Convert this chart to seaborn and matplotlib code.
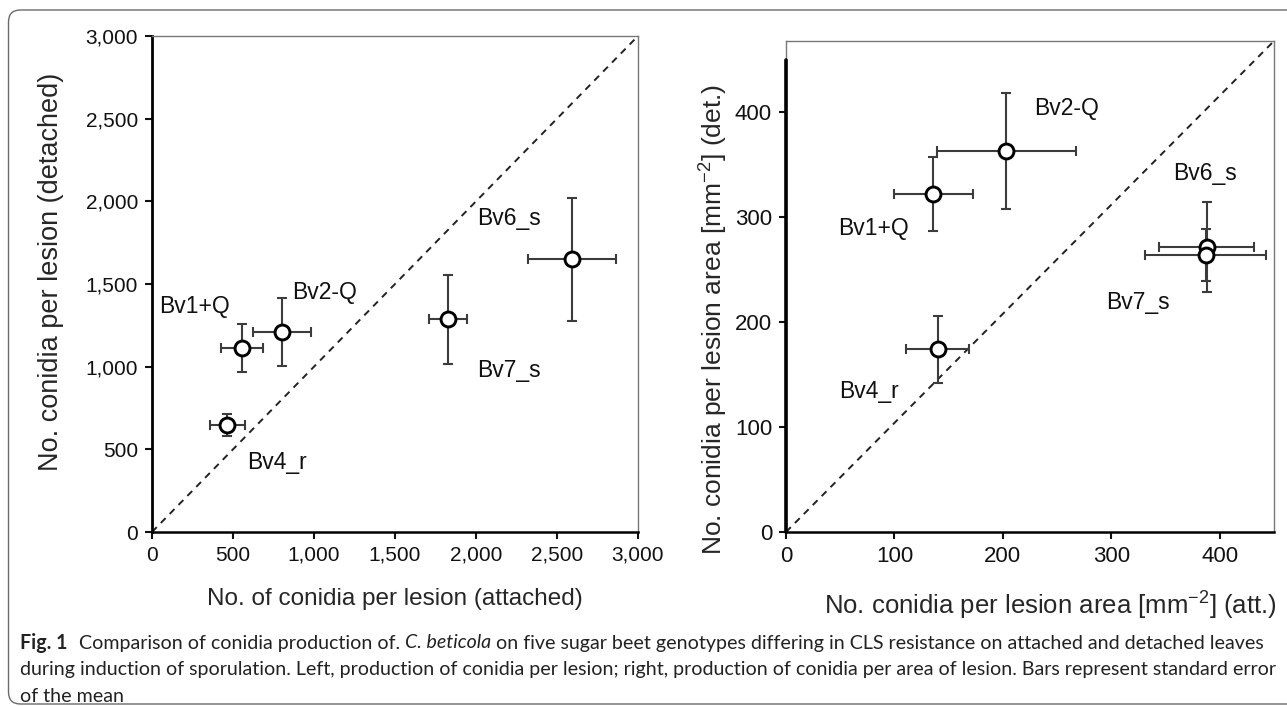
import numpy as np
import pandas as pd
import matplotlib
matplotlib.use("Agg")
import matplotlib.pyplot as plt
import seaborn as sns
from matplotlib.patches import FancyBboxPatch

# genotypes
genotypes = ["Bv1+Q", "Bv2-Q", "Bv4_r", "Bv6_s", "Bv7_s"]

# left panel: conidia per lesion (attached vs detached), mean and SE
att_mean = [558, 801, 466, 2590, 1828]
att_se = [130, 178, 105, 272, 118]
det_mean = [1114, 1209, 647, 1650, 1288]
det_se = [145, 207, 68, 372, 269]
# label anchor (left edge, vertical centre) in data units
left_lab_x = [41, 863, 589, 2005, 2005]
left_lab_y = [1365, 1449, 423, 1896, 978]

# right panel: conidia per lesion area (mm-2)
att_area_mean = [136, 203, 140, 388, 387]
att_area_se = [36, 64, 29, 44, 56]
det_area_mean = [322, 363, 174, 272, 264]
det_area_se = [35, 55, 32, 43, 25]
right_lab_x = [48, 229, 49, 357, 295]
right_lab_y = [289, 404, 134, 342, 219]

left_ticks = [0, 500, 1000, 1500, 2000, 2500, 3000]
right_ticks = [0, 100, 200, 300, 400]

left_df = pd.DataFrame({"genotype": genotypes, "att": att_mean, "att_se": att_se,
                        "det": det_mean, "det_se": det_se,
                        "lx": left_lab_x, "ly": left_lab_y})
right_df = pd.DataFrame({"genotype": genotypes, "att": att_area_mean, "att_se": att_area_se,
                         "det": det_area_mean, "det_se": det_area_se,
                         "lx": right_lab_x, "ly": right_lab_y})

sns.set_style("white")
plt.rcParams['font.family'] = ['Liberation Sans', 'DejaVu Sans']
plt.rcParams['mathtext.default'] = 'regular'

W, H = 1287, 706
fig = plt.figure(figsize=(W / 100, H / 100), dpi=100)


def px_axes(x0, x1, y0, y1):
    # pixel box (top-down y) -> figure fraction
    return fig.add_axes([x0 / W, 1 - y1 / H, (x1 - x0) / W, (y1 - y0) / H])


ax1 = px_axes(152, 638, 36, 532)
ax2 = px_axes(786, 1274, 41, 532)


def draw_panel(ax, df, lim, ylim, ticks, fmt, tsize):
    ax.errorbar(df["att"], df["det"], xerr=df["att_se"], yerr=df["det_se"], fmt="none",
                ecolor="#3c3c3c", elinewidth=1.5, capsize=3.5, capthick=1.5, zorder=2)
    sns.scatterplot(data=df, x="att", y="det", ax=ax, marker="o", s=115,
                    facecolor="white", edgecolor="black", linewidth=2.1, zorder=3)
    ax.plot([0, lim], [0, ylim], ls=(0, (3.5, 3)), color="#222222", lw=1.4, zorder=1)
    for _, r in df.iterrows():
        ax.text(r["lx"], r["ly"], r["genotype"], fontsize=16.5, ha="left", va="center",
                color="#111111")
    ax.set_xlim(0, lim)
    ax.set_ylim(0, ylim)
    ax.set_xticks(ticks)
    ax.set_xticklabels([fmt.format(t) for t in ticks])
    ax.set_yticks(ticks)
    ax.set_yticklabels([fmt.format(t) for t in ticks])
    ax.tick_params(axis="both", which="both", direction="out", length=5, width=1.5,
                   labelsize=tsize, colors="#111111", pad=5,
                   bottom=True, left=True, top=False, right=False)
    for s in ["top", "right"]:
        ax.spines[s].set_color("#777777")
        ax.spines[s].set_linewidth(1.0)
    ax.spines["bottom"].set_color("black")
    ax.spines["bottom"].set_linewidth(1.8)


draw_panel(ax1, left_df, 3000, 3000, left_ticks, "{:,}", 15)
ax1.spines["left"].set_color("black")
ax1.spines["left"].set_linewidth(2.0)

draw_panel(ax2, right_df, 450, 468, right_ticks, "{:d}", 16)
ax2.spines["left"].set_color("#777777")
ax2.spines["left"].set_linewidth(1.0)
ax2.plot([0, 0], [0, 450], color="black", lw=2.6, clip_on=False, zorder=4)

ax1.set_xlabel("No. of conidia per lesion (attached)", fontsize=17.5, va="center")
ax1.set_ylabel("No. conidia per lesion (detached)", fontsize=19.5, va="center")
ax1.xaxis.set_label_coords(0.5, -0.135)
ax1.yaxis.set_label_coords(-0.208, 0.524)
ax2.set_xlabel("No. conidia per lesion area [mm$^{-2}$] (att.)", fontsize=18.5, va="center")
ax2.set_ylabel("No. conidia per lesion area [mm$^{-2}$] (det.)", fontsize=19, va="center")
ax2.xaxis.set_label_coords(0.541, -0.151)
ax2.yaxis.set_label_coords(-0.148, 0.432)

# article frame
frame = FancyBboxPatch((0.085, 0.02), 14.5, 6.94, boxstyle="round,pad=0,rounding_size=0.12",
                       transform=fig.dpi_scale_trans, fill=False, ec="#6b6b6b", lw=1.0,
                       clip_on=False)
fig.patches.append(frame)

# caption
cap_font = ['Lato', 'DejaVu Sans']
renderer = fig.canvas.get_renderer()
line1 = [("Fig. 1", dict(weight="bold"), 10),
         ("Comparison of conidia production of. ", {}, 0),
         ("C. beticola", dict(style="italic"), 4),
         ("on five sugar beet genotypes differing in CLS resistance on attached and detached leaves", {}, 0)]


def put_run(x, y, s, size, **kw):
    t = fig.text(x / W, 1 - y / H, s, fontsize=size, family=cap_font, va="center",
                 ha="left", color="#222222", **kw)
    bb = t.get_window_extent(renderer=renderer)
    return t, x + bb.width


# fit the first caption line to the text width of the page
base = 12.5
x = 20
tmp = []
for s, kw, gap in line1:
    t, x = put_run(x, 643, s, base, **kw)
    x += gap
    tmp.append(t)
for t in tmp:
    t.remove()
size = base * 1243 / (x - 20)

x = 20
for s, kw, gap in line1:
    t, x = put_run(x, 643, s, size, **kw)
    x += gap * size / base
put_run(20, 670, "during induction of sporulation. Left, production of conidia per lesion; right, "
                 "production of conidia per area of lesion. Bars represent standard error", size)
put_run(20, 696, "of the mean", size)

fig.savefig("out.png", dpi=100)
